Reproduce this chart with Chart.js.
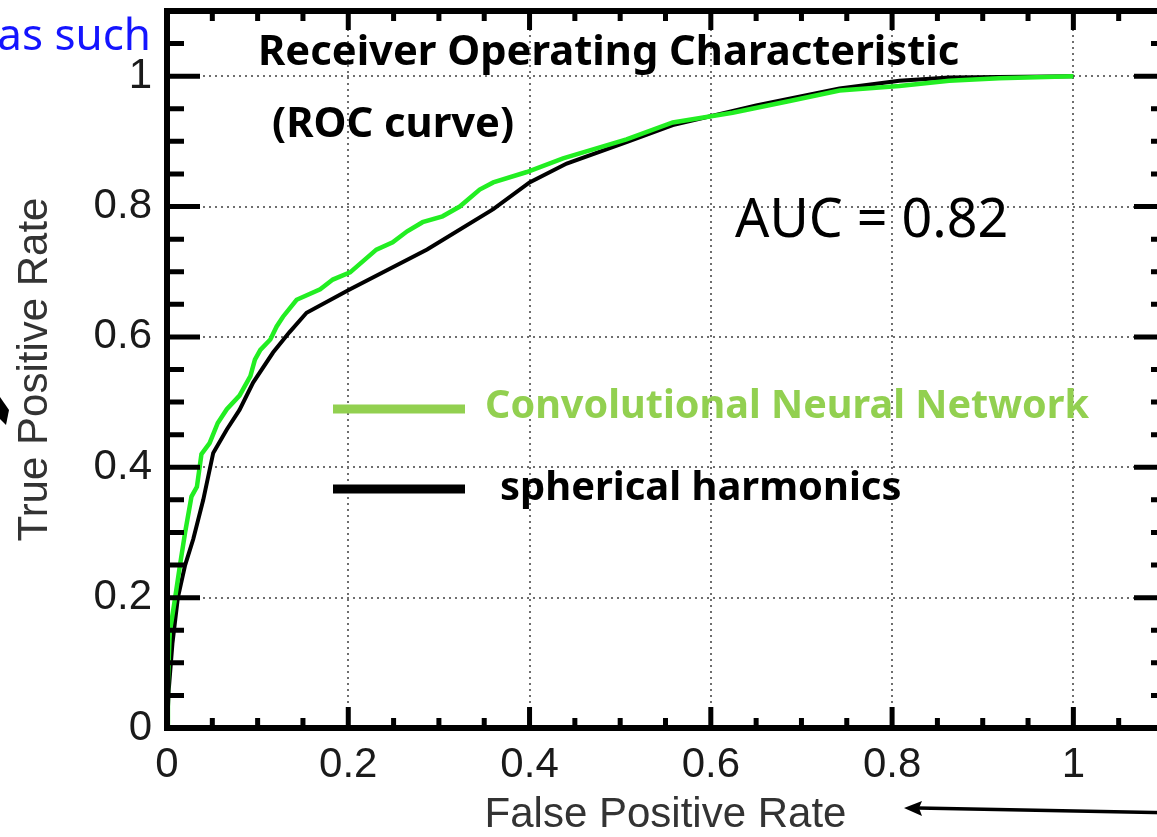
<!DOCTYPE html>
<html>
<head>
<meta charset="utf-8">
<script src="https://cdn.jsdelivr.net/npm/chart.js@4.4.1/dist/chart.umd.min.js"></script>
<style>
html, body { margin: 0; padding: 0; background: #fff; overflow: hidden; }
canvas { display: block; }
</style>
</head>
<body>
<canvas id="chart" width="1180" height="837"></canvas>
<script>
// ROC curves
var cnnFpr = [0, 0.001, 0.003, 0.009, 0.014, 0.02, 0.027, 0.033, 0.038, 0.047, 0.056, 0.066, 0.08, 0.092, 0.097, 0.103, 0.114, 0.121, 0.128, 0.143, 0.169, 0.183, 0.202, 0.231, 0.249, 0.265, 0.282, 0.304, 0.323, 0.345, 0.36, 0.397, 0.437, 0.507, 0.558, 0.624, 0.687, 0.742, 0.808, 0.863, 0.918, 1];
var cnnTpr = [0, 0.069, 0.146, 0.2, 0.247, 0.3, 0.355, 0.37, 0.42, 0.437, 0.468, 0.489, 0.51, 0.54, 0.565, 0.58, 0.596, 0.616, 0.631, 0.657, 0.673, 0.688, 0.699, 0.734, 0.745, 0.762, 0.776, 0.785, 0.8, 0.826, 0.837, 0.853, 0.874, 0.903, 0.929, 0.944, 0.962, 0.978, 0.985, 0.993, 0.997, 1];

var shFpr = [0, 0.002, 0.006, 0.012, 0.02, 0.029, 0.04, 0.051, 0.066, 0.08, 0.095, 0.117, 0.135, 0.154, 0.202, 0.287, 0.36, 0.4, 0.441, 0.507, 0.558, 0.65, 0.742, 0.808, 0.863, 1];
var shTpr = [0, 0.06, 0.13, 0.2, 0.25, 0.29, 0.35, 0.422, 0.458, 0.488, 0.53, 0.576, 0.607, 0.637, 0.673, 0.734, 0.796, 0.837, 0.866, 0.899, 0.925, 0.955, 0.981, 0.993, 0.998, 1];

var majorTicks = [0, 0.2, 0.4, 0.6, 0.8, 1];
var tickLabels = ['0', '0.2', '0.4', '0.6', '0.8', '1'];
var minorStep = 0.05;
var axisMax = 1.1;

var comic = '"Comic Sans MS", "Noto Sans", sans-serif';
var helv = '"Liberation Sans", Arial, sans-serif';

function points(xs, ys) {
    return xs.map(function (x, i) { return { x: x, y: ys[i] }; });
}

// pick a font size so the text spans the wanted width
function fitText(ctx, text, weight, width) {
    ctx.font = weight + ' 40px ' + comic;
    var size = 40 * width / ctx.measureText(text).width;
    ctx.font = weight + ' ' + size.toFixed(1) + 'px ' + comic;
}

// box with inward ticks on all four sides
var frame = {
    id: 'frame',
    afterDraw: function (chart) {
        var ctx = chart.ctx, a = chart.chartArea;
        var xs = chart.scales.x, ys = chart.scales.y;
        var n = Math.round(axisMax / minorStep);
        ctx.save();
        ctx.strokeStyle = '#000';
        ctx.lineWidth = 5;
        for (var i = 0; i <= n; i++) {
            var v = i * minorStep;
            var major = i % 4 === 0 && v <= 1.0001;
            var px = xs.getPixelForValue(v), py = ys.getPixelForValue(v);
            ctx.beginPath();
            ctx.moveTo(px, a.bottom); ctx.lineTo(px, a.bottom - (major ? 21 : 10));
            ctx.moveTo(px, a.top); ctx.lineTo(px, a.top + (major ? 19 : 10));
            ctx.moveTo(a.left, py); ctx.lineTo(a.left + (major ? 33 : 17), py);
            ctx.moveTo(a.right, py); ctx.lineTo(a.right - (major ? 30 : 13), py);
            ctx.stroke();
        }
        ctx.lineWidth = 6;
        ctx.strokeRect(a.left, a.top, a.right - a.left, a.bottom - a.top);

        // legend drawn inside the plot
        ctx.lineWidth = 9;
        ctx.strokeStyle = '#92d050';
        ctx.beginPath(); ctx.moveTo(333, 409); ctx.lineTo(465, 409); ctx.stroke();
        ctx.strokeStyle = '#000';
        ctx.beginPath(); ctx.moveTo(333, 489); ctx.lineTo(465, 489); ctx.stroke();

        ctx.textAlign = 'left';
        ctx.textBaseline = 'alphabetic';
        ctx.fillStyle = '#000';
        fitText(ctx, 'Receiver Operating Characteristic', 'bold', 702);
        ctx.fillText('Receiver Operating Characteristic', 258, 65);
        ctx.fillText('(ROC curve)', 272, 137);
        fitText(ctx, 'AUC = 0.82', 'normal', 273);
        ctx.fillText('AUC = 0.82', 735, 237);
        ctx.fillStyle = '#92d050';
        fitText(ctx, 'Convolutional Neural Network', 'bold', 605);
        ctx.fillText('Convolutional Neural Network', 485, 418);
        ctx.fillStyle = '#000';
        fitText(ctx, 'spherical harmonics', 'bold', 402);
        ctx.fillText('spherical harmonics', 500, 500);

        // slide leftovers around the chart
        ctx.fillStyle = '#1414ff';
        ctx.textAlign = 'right';
        ctx.font = 'normal 44px ' + comic;
        ctx.fillText('as such', 151, 50);

        ctx.fillStyle = '#000';
        ctx.beginPath();
        ctx.moveTo(0, 397); ctx.lineTo(9, 410); ctx.lineTo(6, 425); ctx.lineTo(0, 419);
        ctx.closePath(); ctx.fill();

        ctx.lineWidth = 3.5;
        ctx.beginPath(); ctx.moveTo(918, 808); ctx.lineTo(1180, 813); ctx.stroke();
        ctx.beginPath();
        ctx.moveTo(904, 808); ctx.lineTo(922, 801); ctx.lineTo(919, 808); ctx.lineTo(922, 816);
        ctx.closePath(); ctx.fill();
        ctx.restore();
    }
};

function majorOnly(scale) {
    scale.ticks = majorTicks.map(function (v) { return { value: v }; });
}

var ctx = document.getElementById('chart').getContext('2d');

var chart = new Chart(ctx, {
    type: 'line',
    data: {
        datasets: [{
            label: 'Convolutional Neural Network',
            data: points(cnnFpr, cnnTpr),
            borderColor: '#22ee22',
            borderWidth: 4.5,
            pointRadius: 0,
            tension: 0
        }, {
            label: 'spherical harmonics',
            data: points(shFpr, shTpr),
            borderColor: '#000000',
            borderWidth: 4,
            pointRadius: 0,
            tension: 0
        }]
    },
    options: {
        responsive: false,
        animation: false,
        devicePixelRatio: 1,
        layout: { padding: { left: 0, top: 11, right: 16, bottom: 0 } },
        plugins: {
            legend: { display: false },
            tooltip: { enabled: false }
        },
        scales: {
            x: {
                type: 'linear',
                min: 0,
                max: axisMax,
                afterBuildTicks: majorOnly,
                afterFit: function (s) { s.height = 109; },
                grid: { color: '#6e6e6e', lineWidth: 2, drawTicks: false },
                border: { display: false, dash: [2, 4] },
                ticks: {
                    padding: 12,
                    color: '#1a1a1a',
                    font: { family: helv, size: 42 },
                    maxRotation: 0,
                    autoSkip: false,
                    callback: function (v, i) { return tickLabels[i]; }
                },
                title: {
                    display: true,
                    text: 'False Positive Rate',
                    color: '#333',
                    font: { family: helv, size: 42, lineHeight: 1 },
                    padding: { top: 0, bottom: 1 }
                }
            },
            y: {
                type: 'linear',
                min: 0,
                max: axisMax,
                afterBuildTicks: majorOnly,
                afterFit: function (s) { s.width = 167; s.paddingTop = 0; s.paddingBottom = 0; },
                grid: { color: '#6e6e6e', lineWidth: 2, drawTicks: false },
                border: { display: false, dash: [2, 4] },
                ticks: {
                    padding: 15,
                    color: '#1a1a1a',
                    font: { family: helv, size: 42 },
                    autoSkip: false,
                    callback: function (v, i) { return tickLabels[i]; }
                },
                title: {
                    display: true,
                    text: 'True Positive Rate',
                    color: '#333',
                    font: { family: helv, size: 42, lineHeight: 1 },
                    padding: { top: 14, bottom: 0 }
                }
            }
        }
    },
    plugins: [frame]
});
</script>
</body>
</html>
